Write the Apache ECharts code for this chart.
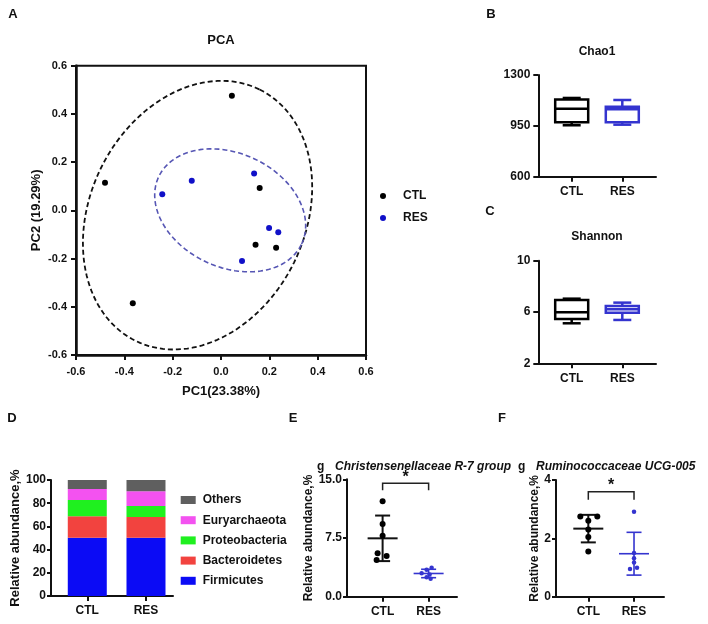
<!DOCTYPE html>
<html><head><meta charset="utf-8">
<script src="https://cdn.jsdelivr.net/npm/echarts@6/dist/echarts.min.js"></script>
<style>html,body{margin:0;padding:0;background:#fff}#c{width:708px;height:624px}</style>
</head><body><div id="c"></div>
<script>
const FONT = "'Liberation Sans', Arial, Helvetica, sans-serif";
const BLUE = '#3434cf';

// ---------- data ----------
const groups = ['CTL', 'RES'];
const groupPos = [1, 2];

// A: PCA
const pcaCTL = [[0.045, 0.475], [-0.48, 0.115], [0.16, 0.093], [0.143, -0.143], [0.228, -0.155], [-0.365, -0.385]];
const pcaRES = [[-0.243, 0.067], [-0.121, 0.123], [0.137, 0.153], [0.199, -0.073], [0.237, -0.091], [0.087, -0.21]];
// confidence ellipses: [centerX, centerY, semiMajor, semiMinor, angleDeg]
const ellipseCTL = [-0.097, -0.02, 0.581, 0.445, 63.9];
const ellipseRES = [0.038, 0.0, 0.327, 0.236, -25.3];
const pcaTicks = [-0.6, -0.4, -0.2, 0.0, 0.2, 0.4, 0.6];

// B: Chao1 [min, Q1, median, Q3, max]
const chao1CTL = [954, 974, 1068, 1132, 1142];
const chao1RES = [958, 974, 1064, 1082, 1128];
const chao1Ticks = [600, 950, 1300];

// C: Shannon
const shannonCTL = [5.12, 5.46, 5.98, 6.94, 7.04];
const shannonRES = [5.38, 5.95, 6.21, 6.47, 6.73];
const shannonTicks = [2, 6, 10];

// D: relative abundance
const phyla = ['Firmicutes', 'Bacteroidetes', 'Proteobacteria', 'Euryarchaeota', 'Others'];
const abundCTL = [50.3, 18.4, 14.1, 9.4, 7.8];
const abundRES = [50.2, 17.9, 9.5, 12.6, 9.8];
const abundTicks = [0, 20, 40, 60, 80, 100];

// E: Christensenellaceae R-7 group
const christCTL = [12.2, 9.3, 7.8, 5.55, 5.2, 4.7];
const christRES = [3.7, 3.45, 3.0, 2.85, 2.5, 2.3];
const christTicks = [0, 7.5, 15];
const christSig = [14.5, 13.6]; // bracket top, leg end

// F: Ruminococcaceae UCG-005
const rumiCTL = [2.75, 2.75, 2.6, 2.3, 2.05, 1.55];
const rumiRES = [2.91, 1.5, 1.32, 1.17, 0.99, 0.95];
const rumiTicks = [0, 2, 4];
const rumiSig = [3.6, 3.32];

// ---------- styling (pixel jitter of overlapping dots) ----------
const jitChristCTL = [0, 0, 0, -5, 4, -6];
const jitChristRES = [3, -2, -7, 1, -2, 2];
const jitRumiCTL = [-8, 9, 0, 0, 0, 0];
const jitRumiRES = [0, 0, 0, 0, 3, -4];
const phylaColors = ['#0b0bf5', '#f2433f', '#1ff01f', '#f352f0', '#5f5f5f'];

// ---------- helpers ----------
function ellipsePts(p) {
  const [cx, cy, a, b, deg] = p, th = deg * Math.PI / 180, out = [];
  for (let i = 0; i <= 144; i++) {
    const t = i / 144 * 2 * Math.PI;
    out.push([cx + a * Math.cos(t) * Math.cos(th) - b * Math.sin(t) * Math.sin(th),
              cy + a * Math.cos(t) * Math.sin(th) + b * Math.sin(t) * Math.cos(th)]);
  }
  return out;
}
function meanSd(arr) {
  const m = arr.reduce((s, v) => s + v, 0) / arr.length;
  const sd = Math.sqrt(arr.reduce((s, v) => s + (v - m) * (v - m), 0) / (arr.length - 1));
  return [m, sd];
}
const fmt1 = v => (Math.abs(v) < 1e-9 ? 0 : v).toFixed(1);
const fmt0 = v => String(Math.round(v));
const lbl = (size, extra) => Object.assign({fontFamily: FONT, fontWeight: 'bold', fontSize: size, color: '#111'}, extra || {});

function catX(gi, min, max) {
  return {
    gridIndex: gi, type: 'value', min, max,
    axisLine: {show: true, onZero: false, lineStyle: {color: '#111', width: 2}},
    axisTick: {show: true, customValues: groupPos, length: 5, lineStyle: {color: '#111', width: 2}},
    axisLabel: lbl(12, {customValues: groupPos, margin: 9, formatter: v => groups[Math.round(v) - 1]}),
    splitLine: {show: false}
  };
}
function valY(gi, ticks, opts) {
  return Object.assign({
    gridIndex: gi, type: 'value', min: ticks[0], max: ticks[ticks.length - 1],
    axisLine: {show: true, onZero: false, lineStyle: {color: '#111', width: 2}},
    axisTick: {show: true, customValues: ticks, length: 5, lineStyle: {color: '#111', width: 2}},
    axisLabel: lbl(12, {customValues: ticks, margin: 8, formatter: fmt0}),
    splitLine: {show: false}
  }, opts || {});
}

function boxSeries(name, gi, x, vals, color) {
  return {
    name, type: 'custom', xAxisIndex: gi, yAxisIndex: gi, clip: false,
    encode: {x: 0, y: [1, 2, 3, 4, 5]},
    data: [[x].concat(vals)],
    renderItem: (params, api) => {
      const xv = api.value(0);
      const p = i => api.coord([xv, api.value(i)]);
      const pMin = p(1), pQ1 = p(2), pMed = p(3), pQ3 = p(4), pMax = p(5);
      const cx = pMin[0], hw = 16.5, cw = 9;
      const st = {stroke: color, lineWidth: 2.5, fill: null};
      return {type: 'group', children: [
        {type: 'line', shape: {x1: cx, y1: pQ3[1], x2: cx, y2: pMax[1]}, style: st},
        {type: 'line', shape: {x1: cx, y1: pQ1[1], x2: cx, y2: pMin[1]}, style: st},
        {type: 'line', shape: {x1: cx - cw, y1: pMax[1], x2: cx + cw, y2: pMax[1]}, style: st},
        {type: 'line', shape: {x1: cx - cw, y1: pMin[1], x2: cx + cw, y2: pMin[1]}, style: st},
        {type: 'rect', shape: {x: cx - hw, y: pQ3[1], width: 2 * hw, height: pQ1[1] - pQ3[1]}, style: {stroke: color, lineWidth: 2.5, fill: '#fff'}},
        {type: 'line', shape: {x1: cx - hw, y1: pMed[1], x2: cx + hw, y2: pMed[1]}, style: st}
      ]};
    }
  };
}
function dotSeries(name, gi, x, vals, jit, color, size) {
  return {
    name, type: 'scatter', xAxisIndex: gi, yAxisIndex: gi, symbolSize: size, z: 3,
    itemStyle: {color, opacity: 1},
    data: vals.map((v, i) => ({value: [x, v], symbolOffset: [jit[i], 0]}))
  };
}
function meanSdSeries(name, gi, x, vals, color, lw) {
  const [m, sd] = meanSd(vals);
  return {
    name, type: 'custom', xAxisIndex: gi, yAxisIndex: gi, clip: false, z: 2,
    encode: {x: 0, y: [1, 2]},
    data: [[x, m, sd]],
    renderItem: (params, api) => {
      const xv = api.value(0), mv = api.value(1), s = api.value(2);
      const pm = api.coord([xv, mv]), pt = api.coord([xv, mv + s]), pb = api.coord([xv, mv - s]);
      const cx = pm[0], st = {stroke: color, lineWidth: lw, fill: null};
      return {type: 'group', children: [
        {type: 'line', shape: {x1: cx - 15, y1: pm[1], x2: cx + 15, y2: pm[1]}, style: st},
        {type: 'line', shape: {x1: cx, y1: pt[1], x2: cx, y2: pb[1]}, style: st},
        {type: 'line', shape: {x1: cx - 7.5, y1: pt[1], x2: cx + 7.5, y2: pt[1]}, style: st},
        {type: 'line', shape: {x1: cx - 7.5, y1: pb[1], x2: cx + 7.5, y2: pb[1]}, style: st}
      ]};
    }
  };
}
function sigSeries(name, gi, sig) {
  return {
    name, type: 'custom', xAxisIndex: gi, yAxisIndex: gi, clip: false,
    encode: {x: [0, 1], y: [2, 3]},
    data: [[1, 2, sig[0], sig[1]]],
    renderItem: (params, api) => {
      const a = api.coord([api.value(0), api.value(2)]), b = api.coord([api.value(1), api.value(3)]);
      const yt = a[1], yl = b[1];
      return {type: 'group', children: [
        {type: 'polyline', shape: {points: [[a[0], yl], [a[0], yt], [b[0], yt], [b[0], yl]]}, style: {stroke: '#222', lineWidth: 1.5, fill: null}},
        {type: 'text', x: (a[0] + b[0]) / 2, y: yt - 6, style: {text: '*', align: 'center', verticalAlign: 'middle', font: 'bold 16px ' + FONT, fill: '#111'}}
      ]};
    }
  };
}
function gtext(x, y, text, size, align) {
  return {type: 'text', x, y, silent: true, style: {text, align: align || 'center', verticalAlign: 'middle', font: 'bold ' + size + 'px ' + FONT, fill: '#111'}};
}
function richTitle(x, y, name) {
  return {type: 'text', x, y, silent: true, style: {
    text: '{a|g}{b|' + name + '}', align: 'left', verticalAlign: 'middle',
    rich: {
      a: {width: 18, fontFamily: FONT, fontWeight: 'bold', fontSize: 12, fill: '#111'},
      b: {fontFamily: FONT, fontWeight: 'bold', fontStyle: 'italic', fontSize: 12, fill: '#111'}
    }
  }};
}

// ---------- option ----------
const series = [
  {name: 'CTL', type: 'scatter', xAxisIndex: 0, yAxisIndex: 0, symbolSize: 6, itemStyle: {color: '#000', opacity: 1}, data: pcaCTL, z: 3},
  {name: 'RES', type: 'scatter', xAxisIndex: 0, yAxisIndex: 0, symbolSize: 6, itemStyle: {color: '#1010c8', opacity: 1}, data: pcaRES, z: 3},
  {name: 'ellipse CTL', type: 'line', xAxisIndex: 0, yAxisIndex: 0, showSymbol: false, silent: true, data: ellipsePts(ellipseCTL),
   lineStyle: {color: '#111', width: 1.8, type: [5, 3]}},
  {name: 'ellipse RES', type: 'line', xAxisIndex: 0, yAxisIndex: 0, showSymbol: false, silent: true, data: ellipsePts(ellipseRES),
   lineStyle: {color: '#5656b4', width: 1.6, type: [5, 3]}},
  boxSeries('Chao1 CTL', 1, 1, chao1CTL, '#000'),
  boxSeries('Chao1 RES', 1, 2, chao1RES, BLUE),
  boxSeries('Shannon CTL', 2, 1, shannonCTL, '#000'),
  boxSeries('Shannon RES', 2, 2, shannonRES, BLUE)
];
phyla.forEach((p, i) => {
  // column 0 = abundance (stacked, y), column 1 = group position (x)
  series.push({name: p, type: 'bar', stack: 'abund', xAxisIndex: 3, yAxisIndex: 3, barWidth: 39,
    encode: {x: 1, y: 0},
    itemStyle: {color: phylaColors[i]}, data: [[abundCTL[i], groupPos[0]], [abundRES[i], groupPos[1]]]});
});
series.push(
  meanSdSeries('E CTL mean', 4, 1, christCTL, '#111', 2),
  meanSdSeries('E RES mean', 4, 2, christRES, BLUE, 1.6),
  dotSeries('E CTL', 4, 1, christCTL, jitChristCTL, '#000', 6),
  dotSeries('E RES', 4, 2, christRES, jitChristRES, BLUE, 4.5),
  sigSeries('E sig', 4, christSig),
  meanSdSeries('F CTL mean', 5, 1, rumiCTL, '#111', 2),
  meanSdSeries('F RES mean', 5, 2, rumiRES, BLUE, 1.6),
  dotSeries('F CTL', 5, 1, rumiCTL, jitRumiCTL, '#000', 6),
  dotSeries('F RES', 5, 2, rumiRES, jitRumiRES, BLUE, 4.5),
  sigSeries('F sig', 5, rumiSig)
);

const option = {
  animation: false,
  backgroundColor: '#fff',
  grid: [
    {left: 76, top: 65.7, width: 290, height: 289.3, show: true, borderColor: '#111', borderWidth: 2},
    {left: 538.3, top: 75, width: 117.7, height: 101.7},
    {left: 538.3, top: 260.7, width: 117.7, height: 102.6},
    {left: 51, top: 480, width: 122, height: 116},
    {left: 347, top: 479.3, width: 110, height: 117.4},
    {left: 556, top: 480, width: 108, height: 116.7}
  ],
  xAxis: [
    {gridIndex: 0, type: 'value', min: -0.6, max: 0.6,
     name: 'PC1(23.38%)', nameLocation: 'middle', nameGap: 30, nameTextStyle: lbl(13),
     axisLine: {show: true, onZero: false, lineStyle: {color: '#111', width: 2.5}},
     axisTick: {show: true, customValues: pcaTicks, length: 5, lineStyle: {color: '#111', width: 2}},
     axisLabel: lbl(11, {customValues: pcaTicks, margin: 11, formatter: fmt1}),
     splitLine: {show: false}},
    catX(1, 0.34, 2.666),
    catX(2, 0.34, 2.666),
    catX(3, 0.382, 2.46),
    catX(4, 0.226, 2.617),
    catX(5, 0.293, 2.656)
  ],
  yAxis: [
    {gridIndex: 0, type: 'value', min: -0.6, max: 0.6,
     name: 'PC2 (19.29%)', nameLocation: 'middle', nameGap: 33, nameTextStyle: lbl(13),
     axisLine: {show: true, onZero: false, lineStyle: {color: '#111', width: 2.5}},
     axisTick: {show: true, customValues: pcaTicks, length: 5, lineStyle: {color: '#111', width: 2}},
     axisLabel: lbl(11, {customValues: pcaTicks, margin: 9, formatter: fmt1}),
     splitLine: {show: false}},
    valY(1, chao1Ticks),
    valY(2, shannonTicks),
    valY(3, abundTicks, {name: 'Relative abundance,%', nameLocation: 'middle', nameGap: 24, nameTextStyle: lbl(13),
      axisLabel: lbl(12, {customValues: abundTicks, margin: 5, formatter: fmt0}), axisTick: {show: true, customValues: abundTicks, length: 4, lineStyle: {color: '#111', width: 2}}}),
    valY(4, christTicks, {name: 'Relative abundance,%', nameLocation: 'middle', nameGap: 26, nameTextStyle: lbl(12),
      axisLabel: lbl(12, {customValues: christTicks, margin: 5, formatter: fmt1}), axisTick: {show: true, customValues: christTicks, length: 4, lineStyle: {color: '#111', width: 2}}}),
    valY(5, rumiTicks, {name: 'Relative abundance,%', nameLocation: 'middle', nameGap: 15, nameTextStyle: lbl(12),
      axisLabel: lbl(12, {customValues: rumiTicks, margin: 5, formatter: fmt0}), axisTick: {show: true, customValues: rumiTicks, length: 4, lineStyle: {color: '#111', width: 2}}})
  ],
  legend: [
    {data: ['CTL', 'RES'], orient: 'vertical', left: 375, top: 184, itemWidth: 30, itemHeight: 6, itemGap: 8,
     icon: 'circle', selectedMode: false, textStyle: lbl(12, {lineHeight: 14})},
    {data: ['Others', 'Euryarchaeota', 'Proteobacteria', 'Bacteroidetes', 'Firmicutes'], orient: 'vertical',
     left: 175.7, top: 488, itemWidth: 15, itemHeight: 8, itemGap: 6.2, icon: 'rect', selectedMode: false,
     textStyle: lbl(12, {lineHeight: 14, padding: [0, 0, 0, 2]})}
  ],
  graphic: [
    gtext(13, 14, 'A', 13), gtext(491, 14, 'B', 13), gtext(490, 211, 'C', 13),
    gtext(12, 418, 'D', 13), gtext(293, 418, 'E', 13), gtext(502, 418, 'F', 13),
    gtext(221, 40, 'PCA', 13), gtext(597, 52, 'Chao1', 12), gtext(597, 237, 'Shannon', 12),
    richTitle(317, 467, 'Christensenellaceae R-7 group'),
    richTitle(518, 467, 'Ruminococcaceae UCG-005')
  ],
  series
};
const chart = echarts.init(document.getElementById('c'), null, {renderer: 'canvas'});
chart.setOption(option);
</script>
</body></html>
